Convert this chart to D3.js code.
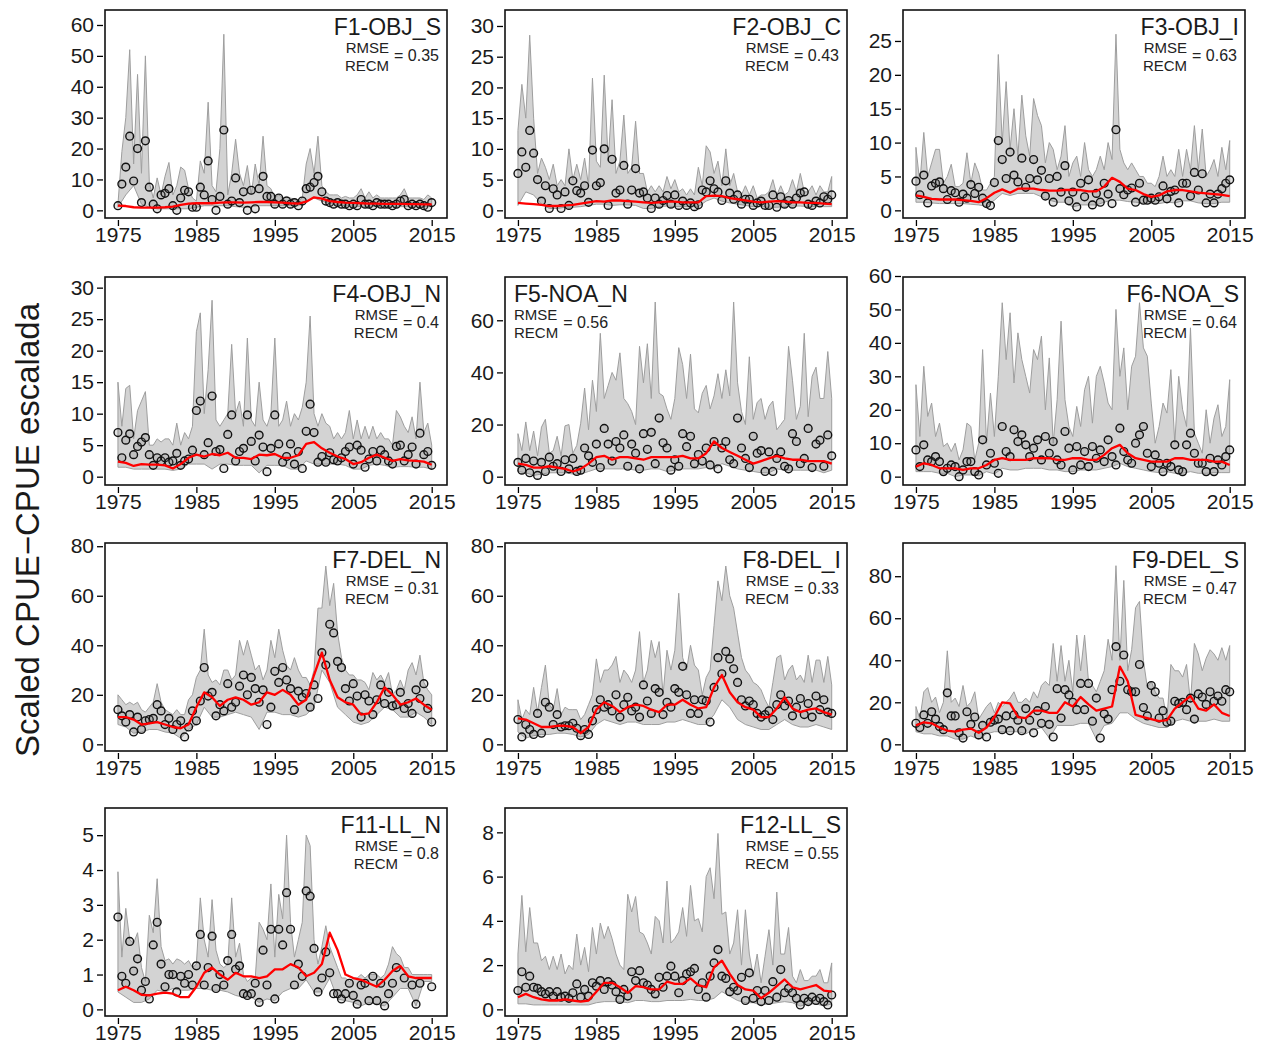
<!DOCTYPE html>
<html>
<head>
<meta charset="utf-8">
<script src="https://cdn.jsdelivr.net/npm/d3@7"></script>
<style>
  body { margin: 0; background: #fff; }
  svg { display: block; font-family: "Liberation Sans", Arial, sans-serif; }
</style>
</head>
<body>
<svg id="chart" width="1266" height="1048"></svg>
<script>
// half-year series (obs, upper band) start at 1975.0 step 0.5; yearly series (lower band, fit) start at 1975
var yearTicks = [1975, 1985, 1995, 2005, 2015];
var ticks0to60by10 = [0, 10, 20, 30, 40, 50, 60];
var ticks0to30by5 = [0, 5, 10, 15, 20, 25, 30];
var ticks0to25by5 = [0, 5, 10, 15, 20, 25];
var ticks0to60by20 = [0, 20, 40, 60];
var ticks0to80by20 = [0, 20, 40, 60, 80];
var ticks0to5 = [0, 1, 2, 3, 4, 5];
var ticks0to8 = [0, 2, 4, 6, 8];

var f1Obs = [1.5,8.5,14,24,9.5,20,2.5,22.5,7.5,2, 0.5,5,5.5,7,1.5,0,4,6.5,6,1, 1,7.5,5,16,3.5,0,4.5,26,2,3, 10.5,2.5,6,0,6.5,0.5,7,11,4.5,4.5, 2,4,2,3,2,2.5,1.5,3,7,7.5, 9,11,6,3,2.5,2,2.5,2,2,1.5, 2,1.5,3.5,2,2,1.5,2.5,2,2,2, 1.5,2,3,3.5,1.5,2,1.5,2,1.5,1, 2.5];
var f1Upper = [2,19,30,52,15,44,12,50,9,4, 10.5,5,11,15.5,5,8,14,13,7,4, 3,16,12,35,8,6,20,57,5,12, 23,12,8,14.5,5,15,8,24,8,7, 4,5,4,4.5,4,3.5,3,4,15,20, 12,24,8,6,5,5,5,4,4.5,4, 4,5,7,4,6,4,5,4,4,4, 4,4,5,7,4,4,4,4,3.5,5, 4];
var f1Lower = [1,5,8,2,1,0.5,0.5,0.5,0.5,0.5, 1,1.5,1.5,1.5,1.5,1.2,1,1.2,1.5,1.5, 1.5,1.5,1.5,1.5,3,4,3,2.2,1.8,1.5, 1.3,1.3,1.3,1.3,1.3,1.2,1.2,1.2,1.2,1.2, 1.2];
var f1Fit = [1.5,1.4,1.0,0.9,0.9,0.9,1.0,1.2,1.8,2.2, 2.3,2.3,2.3,2.5,2.6,2.6,2.5,2.6,2.7,2.7, 2.6,2.5,2.3,2.2,2.8,4.2,3.8,3.0,2.7,2.5, 2.4,2.3,2.2,2.2,2.1,2.1,2.1,2.0,2.0,1.9, 1.9];

var f2Obs = [6,9.5,7,13,9.3,5,1.5,4,0.3,3.5, 2.5,0.3,3,0.8,4.8,3.2,2.8,4,1.3,9.8, 4,4.5,10,0.8,8.3,2.8,3.3,7.3,1,3.3, 6.8,2.8,3,2,0.3,2,1,1.6,2.4,1, 2.5,0.8,1.5,0.8,1.2,0.6,0.9,3.3,3,4.8, 3.5,3,1.6,4.8,2.8,1.8,2.5,1,1.8,1.8, 0.8,1.2,1.5,0.8,0.8,2.5,0.5,2.2,1,1.6, 1,2,2.8,3,1,0.8,1.5,1.2,2.2,1.8, 2.5];
var f2Upper = [13,20.5,15,28.5,15,6,8.5,7,5,7.5, 4,5,4,10,5,7.5,5,8.5,4,21.5, 8,7,22,8,18,6,8,15.5,6,7, 14.5,6,6,3,4,3,4,3,5.5,3.5, 5,3,3.5,2.5,3.5,2.5,7,4,10.5,9.5, 6,8,4,10,4,6,3,2.5,4,2.5, 4,2,2.5,2.5,3,5,2.5,4,2.5,3, 5,3,6,3,3,4,2.5,4,3,3, 5.5];
var f2Lower = [0.8,3,2.5,1,0.3,0.3,0.5,0.5,0.6,0.8, 1,1,0.8,0.9,0.9,0.8,0.3,0.3,0.6,0.7, 0.6,0.6,0.6,0.6,1.5,2,1.5,1.2,1,0.8, 0.6,0.6,0.5,0.5,0.6,0.7,0.7,0.6,0.6,0.6, 0.6];
var f2Fit = [1.2,1.1,1.0,0.9,0.7,0.7,0.8,0.9,1.1,1.3, 1.5,1.4,1.6,1.6,1.5,1.4,1.3,1.2,1.3,1.4, 1.4,1.3,1.3,1.3,2.3,2.4,2.3,2.0,1.8,1.6, 1.4,1.3,1.4,1.5,1.4,1.3,1.3,1.2,1.2,1.1, 1.0];

var f3Obs = [4.3,2.3,5.2,1.1,3.6,4,4.2,3.2,1.6,2.9, 2.6,1.2,2.4,1.8,3.8,2.5,3.4,1.8,1,0.7, 4.1,10.3,7.5,4.7,8.6,5.2,4.2,7.7,3.4,4.7, 7.5,4.5,5.9,2.1,4.7,1.2,5,2.7,6.6,1.4, 2.7,0.5,4,2,4.5,0.8,2.5,1.2,4,2.4, 1,11.9,3.2,2.3,3,3.3,1.2,4,1.5,1.5, 1.8,1.5,2,3.6,1.7,2.8,3,1.1,4,4, 2.1,5.6,3,5.4,1.1,2.4,1.1,2.4,3.2,4, 4.5];
var f3Upper = [9.3,4,11.5,5,7,9,9,4,5,6.8, 3.5,3.5,4,8.5,4,7,5.5,3,3,4, 5,23,10,19,9,15,8,17,11,8, 16.5,14,12.5,7,10,9,6,8,12.5,5, 7,8,5,10,6,5,6,8,6,10, 7.5,26,9,7,6,7,6,5,5,4, 4,3.5,5,8,5,6,5,9,5,9, 6,12.5,6,12,5,6,7.5,5,9.3,6, 10.3];
var f3Lower = [1.2,1.2,1.1,1,1,1,1,0.9,0.8,0.6, 1.5,2.5,2.2,2.5,2.5,2.5,2,1.5,1.2,1.2, 0.5,0.8,0.8,0.8,1.2,1.5,1.5,1.3,1.2,1.1, 1,1,1.2,1.1,1.4,1.4,1.1,1,1,1.2, 1.2];
var f3Fit = [2.2,2.0,1.7,1.6,1.6,1.6,1.5,1.4,1.2,1.8, 2.6,3.1,2.6,3.2,3.2,3.2,3.0,2.9,2.9,3.0, 3.0,3.0,2.8,2.8,3.5,4.8,4.2,3.2,3.0,2.4, 2.0,2.2,2.8,3.0,3.0,2.8,2.6,2.5,2.4,2.3, 2.1];

var f4Obs = [7,3,5.8,6.8,3.5,4.8,5.5,6.2,3.5,1.8, 3,2.5,3,2.3,2.5,3.7,1.8,2.5,2.8,4.2, 10.5,12,3.5,5.4,12.8,4,4.3,1.3,6.7,9.8, 2.5,4,4.5,9.8,5.6,2.5,6.6,4.7,0.8,4.5, 9.8,5.2,2.3,3.2,5.2,2,4,1.3,7.2,11.5, 7,2.3,3.2,2.3,3.8,2.7,2.5,3,4,4.7, 2,5,4.2,1.5,2.8,4,2.5,4.2,3.5,2.5, 2,4.8,5,2.5,3.5,4.7,2,6.9,3.5,4, 1.8];
var f4Upper = [15,8,14,14.5,6,10.5,12,13.5,5,5, 6,5.5,6,6,5,8.5,5,7,6,8, 23,26,10,17,28,9,8,9,10,21, 10,12,8,22,9,8,15,9,8,10, 22,8,9,12,8,10,9,11,15,25.5, 10,8,10,8.5,8,6,7,6,7,10.5, 6,9,6,8,6,8,6,7,6,6, 5,10.5,9.5,8,7,9.5,6,15,7,8.5, 5];
var f4Lower = [1.5,1.5,1.2,1.2,1.2,1.2,1.2,1,1.2,2, 2,2,1.2,2,2,1.8,1.8,1.8,0.6,1.8, 1.8,1.8,1.2,1.2,2.5,2,2,2,2,1.8, 1.2,1.2,1.8,2,1.8,1.5,1.6,1.6,1.5,1.5, 1.2];
var f4Fit = [2.4,2.2,1.7,2.0,1.9,1.9,1.8,1.3,2.0,3.0, 3.5,3.2,3.6,3.4,3.8,3.0,3.0,2.8,3.5,3.4, 3.6,3.0,3.0,3.4,5.2,5.5,4.5,3.8,3.2,2.8, 2.0,2.3,3.0,3.5,3.0,2.5,2.8,2.6,2.5,2.4, 1.9];

var f5Obs = [5.5,2.5,7,1.5,6,0.5,5.5,2,7.5,4, 5,2,6.5,3,7,2,2.5,11,8,5.5, 12.5,3.5,18.5,12.5,6,13.5,11,16,4,12.5, 9,3,16.5,10.5,17,5,22.5,13,11,2.5, 6.5,4,16.5,11.5,15.5,5,8.5,6,11,4.5, 13.5,3,11,13.5,6.5,5,22.5,11,7,3.5, 15.5,9,10,2,9.5,2,7,9.5,4,3, 16.5,13.5,5,7,18.5,3.5,12.5,14,4,16, 8];
var f5Upper = [16.5,10,21,10,17.5,8,19,22,9,10, 15.5,8,19.5,20,9,12,20.5,34,18,37, 25,55,30,35,40,37,47.5,30,28,25, 20,50,36,51,30,67,32,31,26,22, 30,49.5,43,30,47,26,24.5,32,35,26, 31,39.5,30,41,31,67,36,25,20,46, 22,28.5,30,22,27,29,18,20,22,50, 37,22,27,55,23,38.5,42,30,30,48, 30];
var f5Lower = [2,1.5,0.5,1,1.5,1.5,1.5,1,1,2, 3,3,3,3,3,2.5,2.5,3,3,2, 2.5,3,3,3,3.5,3,5,4,3,2.5, 2,1.5,1.5,3,2.5,2.5,2.5,2.5,2.5,1.5, 2.5];
var f5Fit = [5,4.5,3.5,3.5,4,3.5,3,2,3,5, 7.5,8,6.5,7.5,7.5,7,6.5,7.5,7.5,7.5, 7.5,8,7,7,9,13.5,11,9.5,8,6.5, 5,6,7,8,7,6.5,6.5,6,6,6, 5];

var f6Obs = [8,3,9.5,5,4.5,6,4.5,1.5,2.5,3.5, 3,0,2,4.5,4.5,1.5,0.5,11,3.5,7, 4,1,15,7.5,6,14,10.5,12.5,9.5,6, 8.5,11,5,12,7,10.5,5,3.5,13.5,8.5, 2,9,3.5,7.5,3,9,5.5,8,4.5,11, 6,3.5,14.5,7.5,5,4,10,12.5,15,7, 3,6.5,4,1.5,4,3,9.5,2,1.5,9.5, 13,7,4,4,1.5,5.5,1.5,5,3.5,6, 8];
var f6Upper = [27.5,12,33,18,22,12,16,9,10,7.5, 10,5,8,16,15,5,10,38,10,25, 12,30,52,35,49,28,43,35,30,25, 38,35,42,20,35.5,10,23,46.5,23,15, 12,21,15,26,30,16,30,33,28,22, 20,50,30,38.5,20,33,36,52,38.5,36, 22,10,15,22,19,32,10,30,20,15, 44.5,13,10,7,20,10,17.5,21.5,12,15, 29];
var f6Lower = [1.5,1.5,1.5,1,1,0,0.5,0.5,0.3,1.5, 0.8,2.5,2,2,2.5,2.5,2.5,2,2,1.5, 1.5,2,2,2,2.5,3,4,3,2.5,2, 1.5,1.2,1.5,1,1,1.5,1,1,1.2,1.2, 1.2];
var f6Fit = [3,4,3.5,2.5,2.5,2.5,2,2.5,2.5,3.5, 5,5.5,5,5,5,5.5,5.5,5.5,5,5, 5.5,5.5,5,5,6.5,8.5,9.5,7,5.5,5, 4.5,4.5,4.5,5.5,5.5,5,5,5,4.5,4.5, 3.5];

var f7Obs = [14,11.5,9,12,5,11,6,9.5,10,10.5, 16,13.5,8,10.5,6,8,9.5,3,7,13.5, 9.5,17.5,31,19.5,21,11.5,16,13.5,24.5,15, 17,23.5,28,20,27,22.5,17,22,8,15, 29.5,25,31,26,22.5,14,21.5,19,20.5,15, 24,18.5,37,32,48.5,45,33.5,31,22.5,17.5, 24.5,19.5,11,20,17.5,12,18,24,16.5,21, 15.5,16,21,14.5,16.5,12.5,22,18.5,24.5,14.5, 9];
var f7Upper = [20,18,16,17,16,17,14,13,15,17, 24.5,17,14,13,12,14,12,12,18,20, 27,30,46.5,28,25,26,24,30,30,26, 28,42,36,42,36,30,32,26,30,42, 35,46.5,38,32,30,35,30,27,27,24, 30,55,55,72,56,65,45,35,30,28, 28,26,26,25,22,29,26,28,25,29, 20,22,26,22,30,33,28,36,25,22, 20];
var f7Lower = [8,7,4.5,5,6,6,5,4.5,2.5,6, 8,15,11,11,12,13,12,11,6,13, 13,12,12,11,12,15,30,25,15,12, 9,8,9,12,15,14,11,11,13,11, 8];
var f7Fit = [11,11,10,8,8.5,9,8,7,6.5,8, 15,21,19,15.5,18,19,18,16,17,21, 20,22,20,16,18,28,37,26,19,17, 16,12,12.5,17,23,20,16,17,18.5,16, 14];

var f8Obs = [10,3,8,6,4,12.5,4.5,17,15,8, 12,7,7.5,7.5,8.5,6.5,3.5,6,4,9.5, 14,18,15,16,13.5,20,11,16,19,13.5, 15,11,24,17.5,12.5,22.5,21,12,17,15, 22.5,21,31.5,20,12.5,18,12.5,18,17.5,9, 23,35,28.5,37.5,34.5,30.5,25,18,15.5,17.5, 16,12.5,11,12,13.5,10,16,20,15.5,17.5, 11.5,15,18.5,12,16.5,11,19.5,14,18,13, 12.5];
var f8Upper = [18,10,14,12,23,13,23,32,16,14, 22.5,12,15,14,14,14,10,12,16,20, 34.5,25,30,30,32,35.5,25,30,28,25, 30,45.5,25,30,42,35,41.5,20,38,30, 38,61,35,30,40,32,30,20,27,30, 48,66,58,72,60,55,45,35,30,28, 25,24,22,18,15,25,35,36,26,30, 32,26,28,25,36,25,34,34,25,35.5, 24];
var f8Lower = [5,2.5,3.5,4,4,4.5,4.5,4,3,4, 8,10,9,8,9,9,8,8,8,9, 9,10,9,8,8,12,18,15,10,8, 7,6,6,8,10,8,7,7,8,7, 6];
var f8Fit = [10.5,10,8.5,7,7,7.5,7.5,7,4.5,7, 14,17,15.5,13,15,16,15.5,14,13,16, 16,18,16,14.5,15,23,28,21,17,15, 14,11,11,14.5,19,14.5,13,14,14.5,13, 12];

var f9Obs = [10,8,14,10,15.5,12,8.5,7,24.5,13.5, 13.5,5.5,3,15.5,9.5,13,4.5,9,3.5,10.5, 11.5,12,7,13.5,6.5,14,11.5,6.5,17,11.5, 5.5,16,10,18,9.5,3.5,26.5,12.5,26,23.5, 20,16.5,29,16.5,29,11,22,3,14.5,12, 26,46.5,30,42.5,26,25,25,38,17.5,13.5, 28,25,12.5,16,10.5,11,20.5,19.5,20,16.5, 22,12,24,22.5,19,25,20.5,23,20.5,26, 25];
var f9Upper = [18,12,25,27,20,22.5,15,20,44.5,20, 22,18,28,18,20,25,12,15,18,20, 15,20,18,20,22,25,20,20,22,20, 25,22,28,30,28,48,30,47,30,40, 25,52,35,52,30,28,25,30,35,50, 40,85,40,78,35,45,65,68,40,27, 30,25,22,22,12,38,35,35,32,38, 20,48,43,35,41,45,43,40,46,40, 47];
var f9Lower = [6,5,5,4,4,2.5,2.5,4,2.5,5, 6,6,6,6,5,7,8,3,9,9, 9,10,10,2.5,9,10,15,15,12,10, 9,8,8,11,12,11,11,11,12,11, 11];
var f9Fit = [9,10.5,10,8,6.5,6,7,7.5,5.5,8, 13,20,19.5,13,12.5,16,16,15,15,20, 18,22.5,19,16,17,18,37,30,14,13, 12,11,11.5,17,20,23,17,16,19,15, 13.5];

var f11Obs = [2.65,0.95,0.75,1.95,1.1,1.45,0.55,0.8,0.3,1.85, 2.5,1.3,0.65,1.0,1.0,0.5,0.95,0.75,1.0,0.7, 1.25,2.15,0.7,1.2,2.1,0.6,1.0,0.7,1.4,2.15, 1.15,1.25,0.45,0.4,0.45,0.75,0.2,1.7,0.7,2.3, 0.3,2.3,1.85,3.35,2.3,0.7,1.3,0.95,3.4,3.25, 1.75,0.5,0.9,1.65,1.05,0.45,0.45,0.3,0.45,0.75, 0.4,0.15,0.7,0.75,0.25,0.95,0.25,0.75,0.1,0.45, 0.75,1.2,null,0.9,null,0.7,0.15,0.75,null,null, 0.65];
var f11Upper = [3.95,1.5,2.9,2,1.9,2.2,1.2,0.8,2.7,2.2, 3.75,1.8,1.4,1.45,1.3,1.45,1.4,1.3,1.4,1.2, 1.3,3.2,2,1.5,3.15,1.7,1.3,1.2,1.3,3.2, 1.5,1.9,1,0.8,0.9,0.9,2.5,2.3,2,3.6, 1.5,3.3,2.6,5,2.5,1.5,2,2.5,5,4.7, 2,1.3,1.8,2.4,1.8,1.5,1.2,0.9,0.9,0.8, 0.9,0.9,1,0.9,1,1,1,0.9,1,1.3, 1.8,1.6,1.5,1.2,1.2,1,1,1,1,1, 1];
var f11Lower = [0.5,0.35,0.2,0.2,0.3,0.55,0.5,0.6,0.55,0.55, 0.6,0.6,0.55,0.55,0.5,0.4,0.35,0.35,0.2,0.3, 0.25,0.5,0.6,0.6,0.85,0.5,0.5,0.9,0.3,0.25, 0.2,0.1,0.2,0.15,0.1,0.35,0.6,0.6,0.1,0.8, 0.8];
var f11Fit = [0.55,0.65,0.55,0.42,0.4,0.45,0.48,0.45,0.35,0.35, 0.65,1.05,1.2,1.0,0.85,1.05,0.95,0.95,0.9,0.95, 1.15,1.15,1.3,1.2,0.95,1.05,1.3,2.2,1.7,1.0, 0.9,0.85,0.75,0.65,0.85,1.1,1.25,0.95,0.9,0.9, 0.9];

var f12Obs = [0.85,1.7,1.0,1.5,1.0,0.95,0.8,0.7,0.8,0.6, 0.8,0.55,0.6,0.5,0.75,1.15,0.55,0.9,0.6,1.2, 1.05,1.3,0.9,1.25,1.1,0.8,0.45,0.9,0.6,1.7, 1.3,1.75,1.2,1.1,0.9,0.7,1.45,1.0,1.5,1.95, 1.5,0.75,1.3,1.6,1.7,1.85,0.9,1.2,0.55,1.5, 2.1,2.7,1.5,1.4,0.8,1.0,0.85,1.45,0.4,1.65, 0.5,0.85,0.35,0.85,0.4,1.25,0.55,1.8,0.75,0.95, 0.75,0.5,0.2,0.5,0.35,0.55,0.4,0.5,0.35,0.2, 0.65];
var f12Upper = [2.5,5.15,2.6,4.6,3,3,2.2,2.4,1.8,2.4, 1.8,2.5,1.6,2,1.8,3.4,2,2.8,1.7,3.7, 2.5,3.9,3.2,3.75,3.2,2.5,2.0,1.8,5.2,4.4, 5.1,3.5,3.4,3,2.5,4.2,4,3,5.8,3, 3.2,3.5,4.6,3.3,5.6,4,4.1,3.5,6,6.4, 5,7.95,4.3,4.4,2.5,3,4.5,2,4.5,2.5, 1.5,2.5,1.2,2.4,3.6,2,5.3,2.5,2.5,3.7, 1.5,1.2,1.8,1.3,1.3,1.5,1.5,1.8,1.2,1.2, 2.1];
var f12Lower = [0.25,0.25,0.2,0.2,0.2,0.2,0.2,0.2,0.2,0.2, 0.3,0.35,0.35,0.35,0.3,0.4,0.4,0.35,0.35,0.4, 0.4,0.4,0.45,0.4,0.4,0.5,0.8,0.6,0.4,0.3, 0.3,0.2,0.25,0.3,0.35,0.3,0.15,0.25,0.25,0.15, 0.25];
var f12Fit = [0.55,0.7,0.55,0.45,0.4,0.4,0.45,0.4,0.35,0.4, 0.8,1.2,1.2,1.0,0.75,1.05,1.0,0.9,0.9,1.25, 1.15,1.15,1.4,1.1,1.0,1.9,2.2,1.6,1.1,0.9, 0.85,0.5,0.75,1.05,1.35,1.0,0.9,1.0,1.1,0.85, 0.8];

var panels = [
  { name: 'F1-OBJ_S', rmse: '0.35', obs: f1Obs, upper: f1Upper, lower: f1Lower, fit: f1Fit, yDomain: [-2.48, 64.85], yTicks: ticks0to60by10, row: 0, col: 0 },
  { name: 'F2-OBJ_C', rmse: '0.43', obs: f2Obs, upper: f2Upper, lower: f2Lower, fit: f2Fit, yDomain: [-1.25, 32.6], yTicks: ticks0to30by5, row: 0, col: 1 },
  { name: 'F3-OBJ_I', rmse: '0.63', obs: f3Obs, upper: f3Upper, lower: f3Lower, fit: f3Fit, yDomain: [-1.13, 29.57], yTicks: ticks0to25by5, row: 0, col: 2 },
  { name: 'F4-OBJ_N', rmse: '0.4', obs: f4Obs, upper: f4Upper, lower: f4Lower, fit: f4Fit, yDomain: [-1.32, 31.69], yTicks: ticks0to30by5, row: 1, col: 0 },
  { name: 'F5-NOA_N', rmse: '0.56', obs: f5Obs, upper: f5Upper, lower: f5Lower, fit: f5Fit, yDomain: [-3.19, 76.6], yTicks: ticks0to60by20, row: 1, col: 1, left: true },
  { name: 'F6-NOA_S', rmse: '0.64', obs: f6Obs, upper: f6Upper, lower: f6Lower, fit: f6Fit, yDomain: [-2.5, 59.7], yTicks: ticks0to60by10, row: 1, col: 2 },
  { name: 'F7-DEL_N', rmse: '0.31', obs: f7Obs, upper: f7Upper, lower: f7Lower, fit: f7Fit, yDomain: [-2.69, 81.3], yTicks: ticks0to80by20, row: 2, col: 0 },
  { name: 'F8-DEL_I', rmse: '0.33', obs: f8Obs, upper: f8Upper, lower: f8Lower, fit: f8Fit, yDomain: [-2.69, 81.3], yTicks: ticks0to80by20, row: 2, col: 1 },
  { name: 'F9-DEL_S', rmse: '0.47', obs: f9Obs, upper: f9Upper, lower: f9Lower, fit: f9Fit, yDomain: [-3.17, 95.8], yTicks: ticks0to80by20, row: 2, col: 2 },
  { name: 'F11-LL_N', rmse: '0.8', obs: f11Obs, upper: f11Upper, lower: f11Lower, fit: f11Fit, yDomain: [-0.19, 5.78], yTicks: ticks0to5, row: 3, col: 0 },
  { name: 'F12-LL_S', rmse: '0.55', obs: f12Obs, upper: f12Upper, lower: f12Lower, fit: f12Fit, yDomain: [-0.3, 9.1], yTicks: ticks0to8, row: 3, col: 1 }
];

var svg = d3.select('#chart'),
    colX = [105, 505, 903],
    rowY = [10, 277, 543, 808],
    pw = 342,
    ph = 208;

function halfTime(i) { return 1975 + i / 2; }
function yearTime(i) { return 1975 + i; }

panels.forEach(function (p, k) {
  var g = svg.append('g')
      .attr('transform', 'translate(' + colX[p.col] + ',' + rowY[p.row] + ')');

  var x = d3.scaleLinear().domain([1973.35, 2016.95]).range([0, pw]),
      y = d3.scaleLinear().domain(p.yDomain).range([ph, 0]);

  var line = d3.line()
      .x(function (d) { return x(d[0]); })
      .y(function (d) { return y(d[1]); });

  svg.append('clipPath').attr('id', 'clip' + k)
    .append('rect').attr('width', pw).attr('height', ph);

  var plot = g.append('g').attr('clip-path', 'url(#clip' + k + ')');

  // band: upper edge forward, lower edge back
  var band = p.upper.map(function (v, i) { return [halfTime(i), v]; })
    .concat(p.lower.map(function (v, i) { return [yearTime(i), v]; }).reverse());

  plot.append('path')
      .attr('d', line(band) + 'Z')
      .attr('fill', '#d3d3d3')
      .attr('stroke', '#9e9e9e')
      .attr('stroke-width', 1);

  var pts = p.obs.map(function (v, i) { return [halfTime(i), v]; })
    .filter(function (d) { return d[1] !== null; });

  plot.selectAll('circle.obs')
    .data(pts)
    .enter().append('circle')
      .attr('class', 'obs')
      .attr('cx', function (d) { return x(d[0]); })
      .attr('cy', function (d) { return y(d[1]); })
      .attr('r', 3.9)
      .attr('fill', 'rgba(120,120,120,0.2)')
      .attr('stroke', '#111')
      .attr('stroke-width', 1.4);

  plot.append('path')
      .attr('d', line(p.fit.map(function (v, i) { return [yearTime(i), v]; })))
      .attr('fill', 'none')
      .attr('stroke', '#ff0000')
      .attr('stroke-width', 2.3)
      .attr('stroke-linejoin', 'round');

  // axes
  var yAxis = g.append('g')
      .attr('transform', 'translate(-2,0)')
      .call(d3.axisLeft(y).tickValues(p.yTicks).tickFormat(d3.format('d'))
        .tickSize(6).tickPadding(3).tickSizeOuter(0));
  var xAxis = g.append('g')
      .attr('transform', 'translate(0,' + (ph + 2) + ')')
      .call(d3.axisBottom(x).tickValues(yearTicks).tickFormat(d3.format('d'))
        .tickSize(6).tickPadding(1).tickSizeOuter(0));

  [yAxis, xAxis].forEach(function (a) {
    a.select('.domain').remove();
    a.selectAll('line').attr('stroke', '#000').attr('stroke-width', 1.3);
    a.selectAll('text').attr('fill', '#1a1a1a').style('font-size', '21px')
      .style('font-family', '"Liberation Sans", Arial, sans-serif');
  });

  g.append('rect')
      .attr('width', pw).attr('height', ph)
      .attr('fill', 'none').attr('stroke', '#111').attr('stroke-width', 1.6);

  // labels
  var title = g.append('text').attr('y', 25).attr('fill', '#1a1a1a')
      .style('font-size', '23px').text(p.name);
  var eq = g.append('text').attr('y', 51).attr('fill', '#222')
      .style('font-size', '16px').text('= ' + p.rmse);
  var rm = g.append('text').attr('y', 43).attr('fill', '#222').style('font-size', '15px').text('RMSE'),
      rc = g.append('text').attr('y', 61).attr('fill', '#222').style('font-size', '15px').text('RECM');

  if (p.left) {
    title.attr('x', 9).attr('text-anchor', 'start');
    rm.attr('x', 9);
    rc.attr('x', 9);
    var w = Math.max(rm.node().getComputedTextLength(), rc.node().getComputedTextLength());
    eq.attr('x', 9 + w + 5);
  } else {
    title.attr('x', pw - 6).attr('text-anchor', 'end');
    eq.attr('x', pw - 8).attr('text-anchor', 'end');
    var ex = pw - 8 - eq.node().getComputedTextLength() - 5;
    rm.attr('x', ex).attr('text-anchor', 'end');
    rc.attr('x', ex).attr('text-anchor', 'end');
  }
});

svg.append('text')
    .attr('transform', 'translate(39,530) rotate(-90)')
    .attr('text-anchor', 'middle')
    .attr('fill', '#1a1a1a')
    .style('font-size', '33px')
    .text('Scaled CPUE\u2212CPUE escalada');
</script>
</body>
</html>
